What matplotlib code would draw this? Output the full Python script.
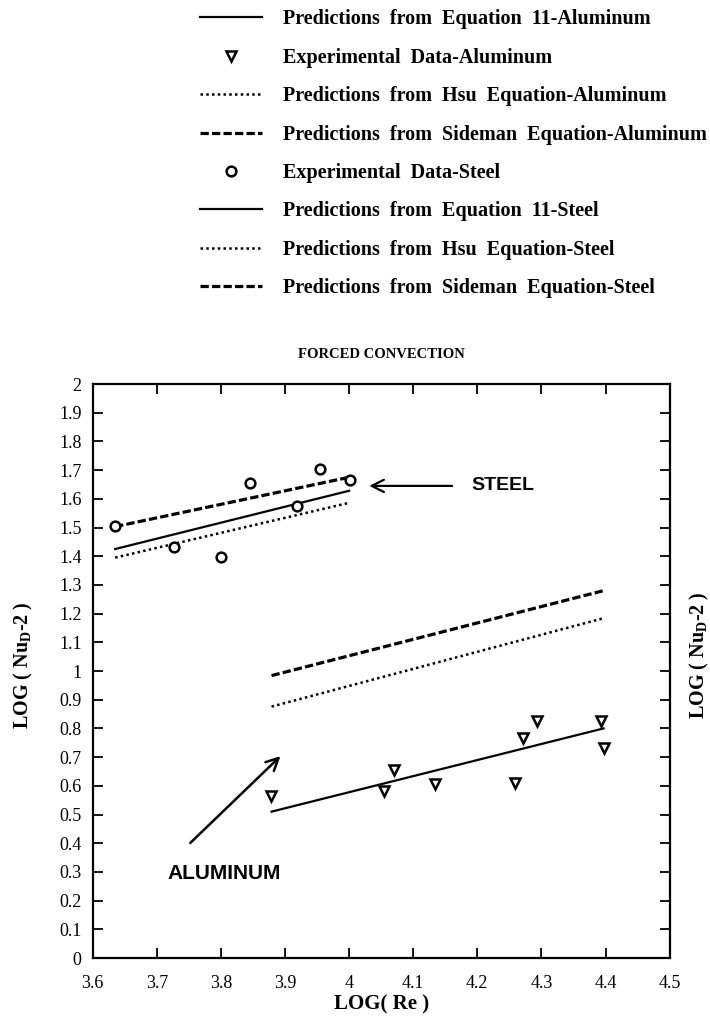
# Forced convection: LOG(Nu_D - 2) against LOG(Re) for aluminum and steel,
# experimental points plus Eq. 11, Hsu and Sideman predictions.

import matplotlib
matplotlib.use("Agg")
import matplotlib.pyplot as plt

plt.rcParams["font.family"] = ["Liberation Serif", "DejaVu Serif"]
plt.rcParams["mathtext.fontset"] = "custom"
plt.rcParams["mathtext.rm"] = "Liberation Serif:bold"

# --- Data ---
steel_exp_x = [3.635, 3.727, 3.800, 3.846, 3.918, 3.954, 4.002]
steel_exp_y = [1.506, 1.433, 1.398, 1.656, 1.576, 1.704, 1.666]

al_exp_x = [3.878, 4.055, 4.070, 4.134, 4.259, 4.271, 4.293, 4.393, 4.398]
al_exp_y = [0.564, 0.583, 0.655, 0.605, 0.611, 0.766, 0.826, 0.826, 0.731]

# prediction lines: two end points each
steel_line_x = [3.635, 4.000]
steel_eq11_y = [1.425, 1.628]
steel_hsu_y = [1.395, 1.586]
steel_sideman_y = [1.503, 1.675]

al_line_x = [3.879, 4.397]
al_eq11_y = [0.510, 0.800]
al_hsu_y = [0.876, 1.184]
al_sideman_y = [0.984, 1.280]

x_ticks = [3.6, 3.7, 3.8, 3.9, 4.0, 4.1, 4.2, 4.3, 4.4, 4.5]
x_tick_labels = ["3.6", "3.7", "3.8", "3.9", "4", "4.1", "4.2", "4.3", "4.4", "4.5"]
y_ticks = [i / 10 for i in range(21)]
y_tick_labels = ["0"] + [f"{v:.1f}" for v in y_ticks[1:10]] + ["1"] + \
    [f"{v:.1f}" for v in y_ticks[11:20]] + ["2"]

# --- Figure ---
fig = plt.figure(figsize=(7.1, 10.32), dpi=100)
ax = fig.add_axes([0.1306, 0.0717, 0.8125, 0.5562])

dash = (0, (2.6, 1.0))
dot = (0, (1.0, 1.3))

h_eq11_al, = ax.plot(al_line_x, al_eq11_y, color="black", lw=1.6, ls="-")
h_exp_al, = ax.plot(al_exp_x, al_exp_y, ls="none", marker="v", ms=7.5,
                    mfc="white", mec="black", mew=1.8)
h_hsu_al, = ax.plot(al_line_x, al_hsu_y, color="black", lw=1.8, ls=dot)
h_sid_al, = ax.plot(al_line_x, al_sideman_y, color="black", lw=2.3, ls=dash)

h_eq11_st, = ax.plot(steel_line_x, steel_eq11_y, color="black", lw=1.6, ls="-")
h_hsu_st, = ax.plot(steel_line_x, steel_hsu_y, color="black", lw=1.8, ls=dot)
h_sid_st, = ax.plot(steel_line_x, steel_sideman_y, color="black", lw=2.3, ls=dash)
h_exp_st, = ax.plot(steel_exp_x, steel_exp_y, ls="none", marker="o", ms=7,
                    mfc="white", mec="black", mew=1.8, zorder=5)

ax.set_xlim(3.6, 4.5)
ax.set_ylim(0, 2)
ax.set_xticks(x_ticks)
ax.set_xticklabels(x_tick_labels)
ax.set_yticks(y_ticks)
ax.set_yticklabels(y_tick_labels)
ax.tick_params(direction="in", length=7, width=1.3, top=True, right=True,
               labelsize=13, pad=8)
ax.tick_params(axis="x", pad=12)
for s in ax.spines.values():
    s.set_linewidth(1.6)

ax.set_xlabel("LOG( Re )", fontsize=15, fontweight="bold", labelpad=2)
ax.set_title("FORCED CONVECTION", fontsize=10.5, fontweight="bold", pad=19)

ylab = "LOG ( Nu$_\\mathregular{D}$-2 )"
fig.text(0.033, 1 - 665 / 1032, ylab, rotation=90, ha="center", va="center",
         fontsize=14.5, fontweight="bold")
fig.text(0.985, 1 - 655 / 1032, ylab, rotation=90, ha="center", va="center",
         fontsize=14.5, fontweight="bold")

# annotations
ax.annotate("", xy=(4.027, 1.645), xytext=(4.165, 1.645),
            arrowprops=dict(arrowstyle="->", lw=1.6, color="black",
                            mutation_scale=22))
ax.text(4.19, 1.645, "STEEL", family="Liberation Sans", fontweight="bold",
        fontsize=14, va="center", ha="left")
ax.annotate("", xy=(3.896, 0.710), xytext=(3.749, 0.394),
            arrowprops=dict(arrowstyle="->", lw=1.8, color="black",
                            mutation_scale=22))
ax.text(3.717, 0.296, "ALUMINUM", family="Liberation Sans", fontweight="bold",
        fontsize=15, va="center", ha="left")

# legend in the top part of the page
handles = [h_eq11_al, h_exp_al, h_hsu_al, h_sid_al,
           h_exp_st, h_eq11_st, h_hsu_st, h_sid_st]
labels = ["Predictions  from  Equation  11-Aluminum",
          "Experimental  Data-Aluminum",
          "Predictions  from  Hsu  Equation-Aluminum",
          "Predictions  from  Sideman  Equation-Aluminum",
          "Experimental  Data-Steel",
          "Predictions  from  Equation  11-Steel",
          "Predictions  from  Hsu  Equation-Steel",
          "Predictions  from  Sideman  Equation-Steel"]
fig.legend(handles, labels, loc="upper left", bbox_to_anchor=(0.2817, 0.991),
           frameon=False, numpoints=1, handlelength=3.1, handletextpad=1.0,
           labelspacing=0.915, borderpad=0, borderaxespad=0,
           prop={"family": "Liberation Serif", "weight": "bold", "size": 14.5})

fig.savefig("out.png", dpi=100)
